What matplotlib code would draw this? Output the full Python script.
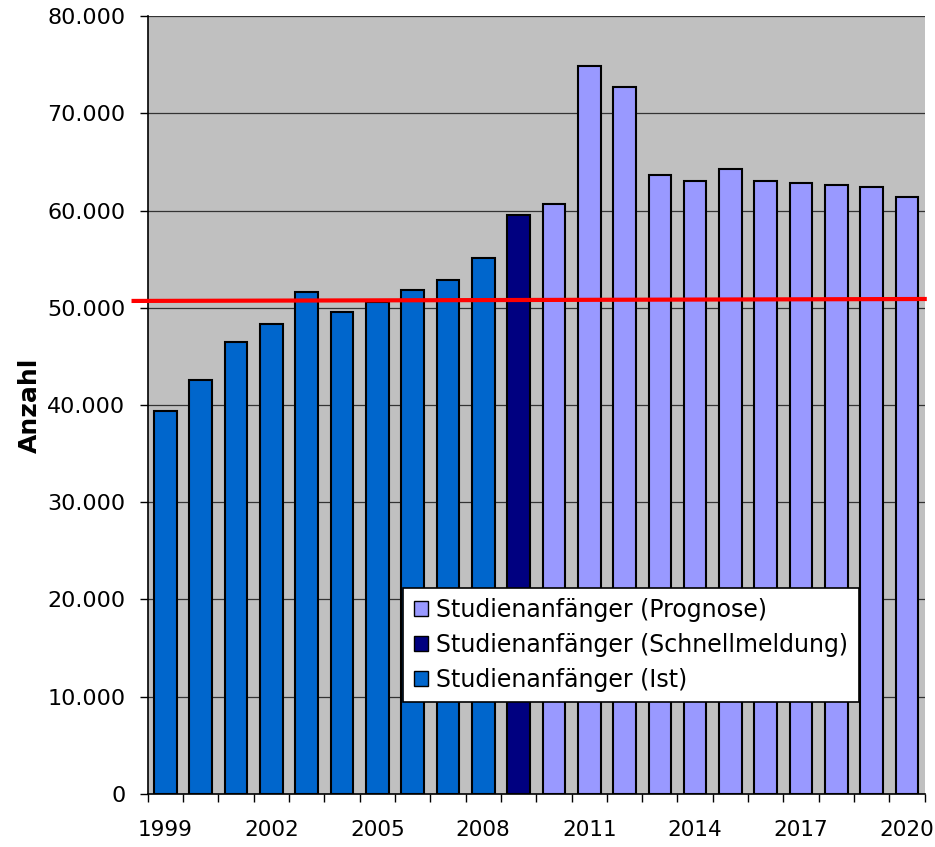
import matplotlib.pyplot as plt
from matplotlib.patches import Patch
from matplotlib.ticker import FuncFormatter

years = list(range(1999, 2021))
ist = [39400, 42600, 46500, 48300, 51600, 49600, 50600, 51800, 52900, 55100]
schnell = [59500]
prognose = [60700, 74900, 72700, 63600, 63000, 64300, 63000, 62800, 62600, 62400, 61400]
red_line = [50700, 50900]

c_ist = '#0066CC'
c_schnell = '#000080'
c_prog = '#9999FF'

fig = plt.figure(figsize=(9.35, 8.47), dpi=100)
ax = fig.add_axes([0.158, 0.0626, 0.831, 0.9185])
ax.set_facecolor('#C0C0C0')

x_ist = list(range(0, len(ist)))
x_sch = [len(ist)]
x_prog = list(range(len(ist) + 1, len(years)))
w = 0.64
ax.bar(x_ist, ist, w, color=c_ist, edgecolor='black', linewidth=1.5, zorder=3)
ax.bar(x_sch, schnell, w, color=c_schnell, edgecolor='black', linewidth=1.5, zorder=3)
ax.bar(x_prog, prognose, w, color=c_prog, edgecolor='black', linewidth=1.5, zorder=3)

ax.set_xlim(-0.5, len(years) - 0.5)
ax.set_ylim(0, 80000)
ax.set_yticks(range(0, 80001, 10000))
ax.yaxis.set_major_formatter(FuncFormatter(lambda v, p: f'{int(v):,}'.replace(',', '.')))
ax.grid(axis='y', color='#333333', linewidth=0.9, zorder=1)

# ticks at category boundaries, labels every third year
ax.set_xticks([i - 0.5 for i in range(len(years) + 1)])
ax.set_xticklabels([])
ax.set_xticks(range(0, len(years), 3), minor=True)
ax.set_xticklabels([str(years[i]) for i in range(0, len(years), 3)], minor=True)
ax.tick_params(axis='x', which='minor', length=0, labelsize=15.5, pad=19)
ax.tick_params(axis='x', which='major', length=6, width=1)
ax.tick_params(axis='y', labelsize=16, length=6, width=1, pad=10)

for s in ['top', 'right']:
    ax.spines[s].set_visible(False)
for s in ['left', 'bottom']:
    ax.spines[s].set_linewidth(1.2)

# red reference line, reaching slightly left of the axis
ax.plot([-0.9, len(years) - 0.5], red_line, color='red', linewidth=3,
        clip_on=False, zorder=4)

ax.set_ylabel('Anzahl', fontsize=18, fontweight='bold', labelpad=4)

handles = [Patch(facecolor=c_prog, edgecolor='black', label='Studienanfänger (Prognose)'),
           Patch(facecolor=c_schnell, edgecolor='black', label='Studienanfänger (Schnellmeldung)'),
           Patch(facecolor=c_ist, edgecolor='black', label='Studienanfänger (Ist)')]
leg = ax.legend(handles=handles, loc='lower left', bbox_to_anchor=(0.329, 0.118),
                fontsize=17, frameon=True, fancybox=False, framealpha=1,
                edgecolor='black', handlelength=0.6, handleheight=0.6,
                handletextpad=0.35, borderpad=0.45, labelspacing=0.45,
                borderaxespad=0)
leg.get_frame().set_linewidth(1.2)
leg.set_zorder(5)

fig.savefig('out.png', dpi=100)
